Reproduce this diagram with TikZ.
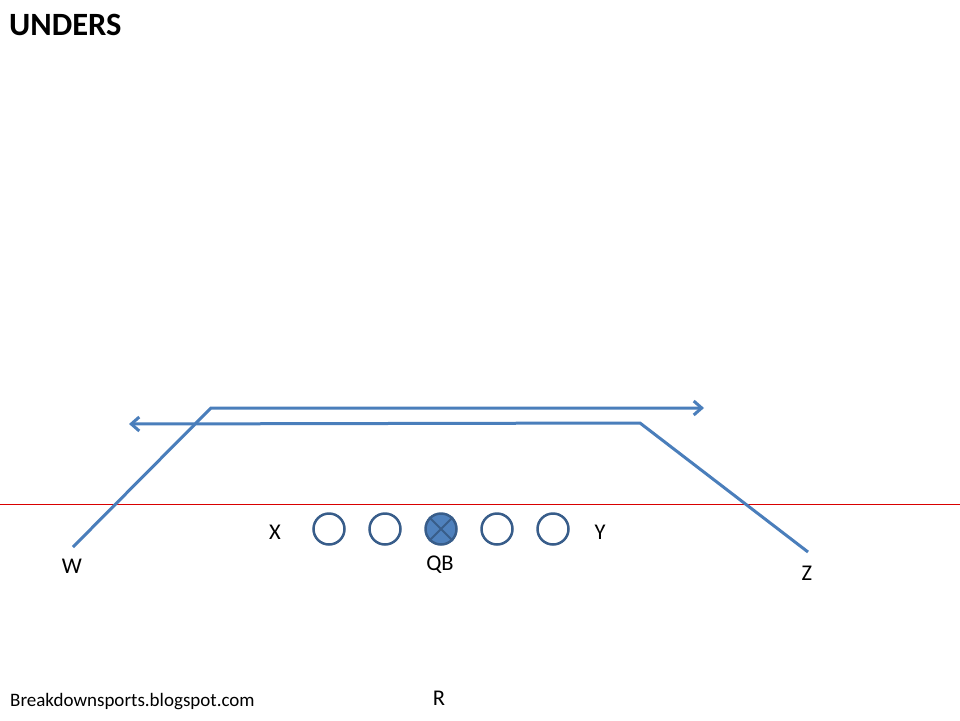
\documentclass[tikz,border=0pt]{standalone}
\usepackage{fontspec}
\setmainfont{Carlito}
\usetikzlibrary{arrows.meta}
\definecolor{route}{RGB}{74,126,187}
\definecolor{ring}{RGB}{56,93,138}
\definecolor{fillb}{RGB}{79,129,189}
\begin{document}
\begin{tikzpicture}[x=1pt,y=-1pt,
  player/.style={circle,draw=ring,line width=2.5pt,minimum size=31pt,inner sep=0pt},
  lbl/.style={font=\fontsize{22.5}{24}\selectfont,inner sep=0pt},
  path/.style={draw=route,line width=3pt,-{Straight Barb[length=8pt,width=14pt,line width=3pt]}}]
\useasboundingbox (0,0) rectangle (960,720);
\fill[white] (0,0) rectangle (960,720);
\coordinate (los1) at (0,504);
\coordinate (los2) at (960,504);
\draw[red!85!black,line width=0.9pt] (los1) -- (los2);
\node[player] (p1) at (329,529) {};
\node[player] (p2) at (385,529) {};
\node[player,fill=fillb] (qbc) at (441,529) {};
\draw[ring,line width=2pt] (qbc.north east) -- (qbc.south west) (qbc.north west) -- (qbc.south east);
\node[player] (p4) at (497,529) {};
\node[player] (p5) at (553,529) {};
\node[lbl] (x) at (275,532) {X};
\node[lbl] (y) at (600,532) {Y};
\node[lbl] (qb) at (440,565) {QB};
\node[lbl] (w) at (72,566) {W};
\node[lbl] (z) at (807,573) {Z};
\node[lbl] (r) at (439,698) {R};
\node[anchor=west,inner sep=0pt,font=\fontsize{32.5}{34}\selectfont\bfseries] (title) at (9,25) {UNDERS};
\node[anchor=west,inner sep=0pt,font=\fontsize{19}{21}\selectfont] (foot) at (10,702) {Breakdownsports.blogspot.com};
\coordinate (w0) at (73,547);
\coordinate (w1) at (211,408);
\coordinate (w2) at (704,408);
\coordinate (z0) at (808,552);
\coordinate (z1) at (640,423);
\coordinate (z2) at (129,424);
\draw[path] (w0) -- (w1) -- (w2);
\draw[path] (z0) -- (z1) -- (z2);
\end{tikzpicture}
\end{document}
